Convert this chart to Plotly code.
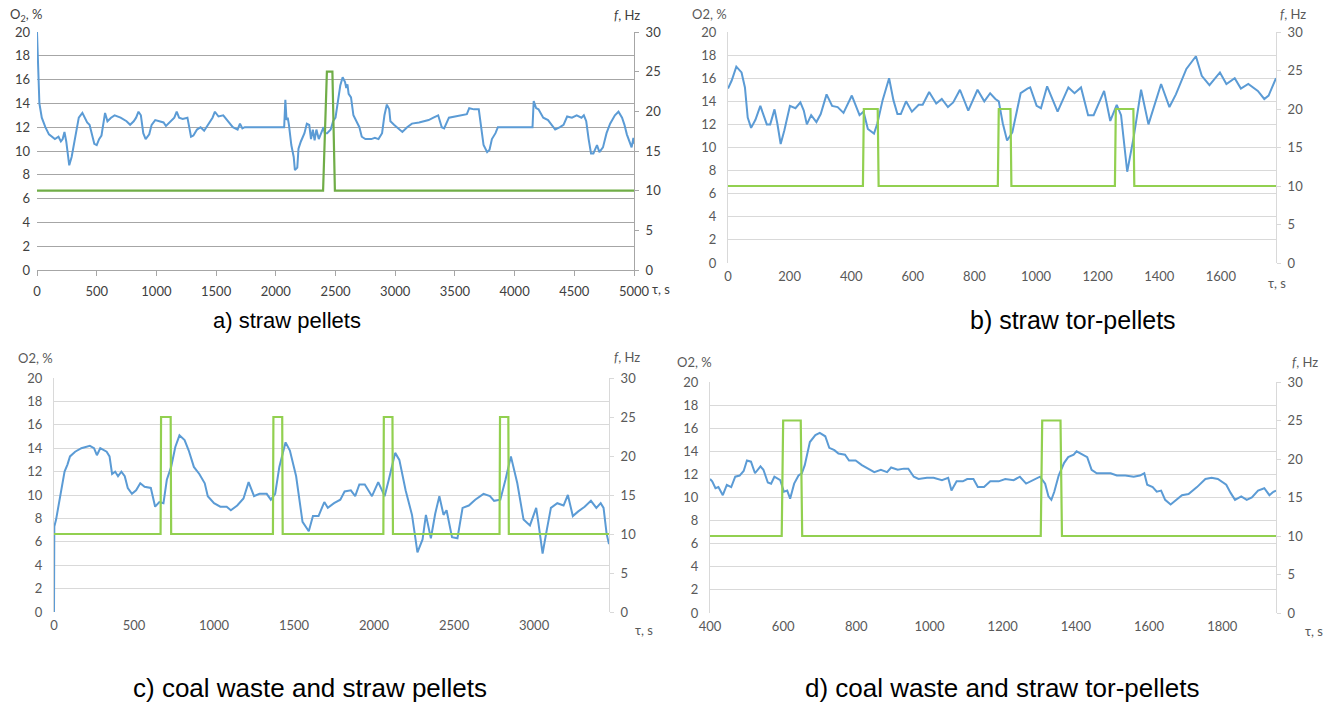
import plotly.graph_objects as go

W, H = 1331, 704

# ---------------- data ----------------
# a) straw pellets
a_t = [0, 10, 20, 40, 70, 100, 130, 150, 180, 200, 215, 230, 245, 260, 270, 290, 310, 330, 350, 380,
       400, 420, 440, 460, 480, 500, 520, 540, 560, 570, 590, 620, 650, 700, 750, 780, 810, 830, 850, 870,
       890, 910, 940, 960, 990, 1030, 1060, 1080, 1110, 1150, 1170, 1190, 1220, 1260, 1290, 1310, 1340,
       1370, 1400, 1440, 1470, 1490, 1520, 1560, 1600, 1640, 1680, 1700, 1720, 1740, 1760, 2070, 2080,
       2090, 2100, 2110, 2130, 2150, 2160, 2180, 2190, 2210, 2240, 2260, 2280, 2295, 2310, 2325, 2340,
       2360, 2380, 2400, 2410, 2430, 2460, 2480, 2500, 2520, 2540, 2560, 2580, 2590, 2600, 2610, 2630,
       2650, 2680, 2700, 2720, 2750, 2800, 2830, 2860, 2890, 2910, 2930, 2950, 2960, 2990, 3040, 3060,
       3100, 3140, 3200, 3240, 3280, 3320, 3360, 3390, 3410, 3450, 3500, 3550, 3600, 3620, 3660, 3700,
       3720, 3740, 3770, 3790, 3810, 3840, 3860, 4150, 4160, 4180, 4200, 4240, 4280, 4320, 4340, 4380,
       4410, 4440, 4480, 4520, 4560, 4580, 4600, 4620, 4640, 4660, 4690, 4710, 4740, 4770, 4800, 4840,
       4870, 4900, 4920, 4940, 4960, 4980, 4995, 5000]
a_o2 = [20, 17, 14, 12.8, 12, 11.4, 11.2, 11.0, 11.2, 10.8, 11.0, 11.6, 10.8, 9.8, 8.8, 9.5, 10.5, 11.8, 12.8, 13.2,
        12.8, 12.4, 12.2, 11.5, 10.6, 10.5, 11.0, 11.3, 12.5, 13.2, 12.5, 12.8, 13.0, 12.8, 12.5, 12.2, 12.5, 12.8, 13.3, 13.0,
        11.5, 11.0, 11.4, 12.2, 12.6, 12.5, 12.4, 12.1, 12.4, 12.8, 13.3, 12.8, 12.7, 12.8, 11.2, 11.3, 11.8,
        12.0, 11.7, 12.3, 12.8, 13.3, 12.9, 13.0, 12.5, 12.0, 11.8, 12.3, 11.9, 12.0, 12.0, 12.0, 14.3,
        12.6, 12.8, 12.2, 10.5, 9.5, 8.4, 8.6, 10.2, 10.8, 11.5, 12.3, 12.2, 11.0, 11.8, 10.9, 11.8,
        11.0, 11.5, 12.0, 11.5, 11.5, 11.8, 12.5, 12.8, 14.0, 15.5, 16.2, 15.8, 15.3, 15.6, 14.8, 14.5,
        13.0, 12.4, 12.0, 11.2, 11.0, 11.0, 11.1, 11.0, 11.5, 13.0, 13.9, 13.5, 12.5, 12.2, 11.8, 11.6,
        12.0, 12.3, 12.4, 12.5, 12.6, 12.8, 13.0, 12.0, 11.9, 12.8, 12.9, 13.0, 13.1, 13.6, 13.5, 13.5,
        12.0, 10.5, 9.9, 10.1, 11.0, 11.5, 12.0, 12.0, 14.2, 13.6, 13.5, 12.8, 12.6, 12.0, 11.8, 12.0,
        12.2, 12.9, 12.8, 13.0, 12.8, 13.0, 12.5, 11.0, 9.8, 9.8, 10.5, 9.9, 10.3, 11.5, 12.3, 13.0,
        13.3, 12.8, 12.2, 11.4, 10.8, 10.3, 11.1, 10.6]
a_ft = [0, 2396, 2428, 2474, 2495, 5000]
a_f = [10, 10, 25, 25, 10, 10]

# b) straw tor-pellets
b_t = [0, 12, 27, 44, 55, 64, 75, 89, 105, 115, 126, 137, 151, 160, 171, 183, 201, 219, 235, 246, 256, 270,
       287, 301, 320, 338, 356, 375, 402, 427, 440, 454, 474, 485, 502, 523, 537, 550, 561, 578, 597, 619,
       632, 653, 676, 694, 714, 731, 753, 780, 810, 832, 851, 868, 879, 892, 906, 923, 936, 950, 972, 981,
       1002, 1016, 1036, 1059, 1070, 1105, 1125, 1146, 1169, 1187, 1221, 1241, 1262, 1276, 1296, 1317,
       1341, 1365, 1406, 1433, 1454, 1488, 1519, 1538, 1563, 1597, 1618, 1645, 1665, 1689, 1720, 1741,
       1755, 1779]
b_o2 = [15.1, 15.8, 17.0, 16.5, 15.2, 12.6, 11.7, 12.4, 13.6, 12.9, 12.0, 12.0, 13.3, 12.1, 10.3, 11.5, 13.6, 13.4,
        13.9, 13.2, 12.0, 12.8, 12.2, 12.9, 14.6, 13.6, 13.5, 13.0, 14.5, 12.8, 13.1, 11.6, 11.2, 12.1, 14.1, 16.0,
        14.1, 12.9, 12.9, 14.0, 13.1, 13.7, 13.7, 14.8, 13.8, 14.2, 13.5, 13.9, 15.0, 13.2, 15.0, 14.0, 14.7, 14.2,
        14.0, 12.1, 10.6, 11.3, 12.9, 14.7, 15.1, 15.2, 13.6, 13.4, 15.3, 13.9, 13.1, 15.2, 14.7, 15.2, 12.8, 12.8,
        14.9, 12.3, 13.7, 12.8, 7.9, 10.9, 15.0, 12.0, 15.5, 13.5, 14.6, 16.8, 17.9, 16.2, 15.4, 16.5, 15.5, 16.0,
        15.1, 15.5, 14.9, 14.2, 14.5, 16.0]
b_ft = [0, 438, 441, 486, 489, 876, 879, 917, 920, 1256, 1259, 1316, 1319, 1779]
b_f = [10, 10, 20, 20, 10, 10, 20, 20, 10, 10, 20, 20, 10, 10]

# c) coal waste and straw pellets
c_t = [0, 2, 13, 26, 39, 53, 66, 84, 100, 132, 171, 224, 250, 268, 289, 329, 347, 363, 382, 400, 421, 442,
       461, 487, 513, 539, 566, 605, 632, 658, 684, 705, 732, 758, 784, 816, 842, 874, 908, 942, 961, 1000,
       1039, 1079, 1105, 1145, 1184, 1216, 1250, 1284, 1329, 1355, 1382, 1408, 1447, 1474, 1513, 1553,
       1592, 1618, 1653, 1689, 1711, 1750, 1789, 1816, 1855, 1882, 1908, 1942, 1987, 2026, 2066, 2092,
       2132, 2158, 2197, 2237, 2271, 2303, 2324, 2355, 2382, 2408, 2434, 2453, 2487, 2521, 2553, 2592,
       2632, 2684, 2724, 2750, 2789, 2821, 2855, 2895, 2934, 2974, 3013, 3026, 3053, 3079, 3105, 3145,
       3184, 3211, 3242, 3276, 3316, 3355, 3389, 3416, 3434, 3453, 3468]
c_o2 = [0, 7.3, 7.9, 9.0, 9.9, 11.3, 12.0, 12.6, 13.3, 13.7, 14.0, 14.2, 14.0, 13.4, 14.0, 13.7, 13.3, 11.8, 12.0,
        11.6, 12.0, 11.6, 10.6, 10.1, 10.4, 11.0, 10.7, 10.6, 9.0, 9.4, 9.3, 11.3, 12.4, 14.1, 15.1, 14.7, 13.8,
        12.4, 11.8, 11.0, 9.9, 9.3, 9.0, 9.0, 8.7, 9.1, 9.7, 11.1, 9.9, 10.1, 10.1, 9.6, 10.1, 12.4, 14.5, 13.8,
        11.6, 7.7, 6.9, 8.2, 8.2, 9.4, 8.9, 9.3, 9.6, 10.3, 10.4, 9.9, 10.9, 10.9, 9.9, 11.1, 9.9, 11.3, 13.6,
        13.0, 10.4, 8.3, 5.1, 6.2, 8.3, 6.3, 8.4, 9.9, 8.3, 8.7, 6.4, 6.3, 8.9, 9.1, 9.6, 10.1, 9.9, 9.5, 9.6,
        11.3, 13.3, 11.0, 7.9, 7.4, 8.9, 7.7, 5.0, 7.0, 8.9, 9.3, 9.1, 10.0, 8.2, 8.6, 9.0, 9.5, 8.9, 9.3, 8.9,
        6.7, 5.8]
c_ft = [0, 666, 669, 729, 732, 1368, 1371, 1426, 1429, 2058, 2061, 2115, 2118, 2784, 2787, 2839, 2842, 3468]
c_f = [10, 10, 25, 25, 10, 10, 25, 25, 10, 10, 25, 25, 10, 10, 25, 25, 10, 10]

# d) coal waste and straw tor-pellets
d_t = [400, 406, 415, 423, 435, 446, 458, 469, 481, 492, 501, 512, 523, 538, 546, 558, 567, 576, 592, 602,
       611, 619, 630, 642, 651, 659, 673, 688, 700, 715, 726, 740, 751, 769, 780, 798, 815, 832, 849, 867,
       884, 895, 913, 930, 942, 957, 970, 993, 1011, 1034, 1051, 1060, 1074, 1091, 1103, 1120, 1132, 1149,
       1166, 1189, 1207, 1230, 1247, 1264, 1281, 1302, 1316, 1325, 1333, 1341, 1353, 1368, 1379, 1394,
       1402, 1414, 1431, 1443, 1457, 1477, 1495, 1512, 1535, 1558, 1575, 1587, 1595, 1610, 1621, 1633,
       1644, 1659, 1673, 1690, 1708, 1731, 1754, 1771, 1788, 1811, 1823, 1835, 1852, 1867, 1881, 1898,
       1915, 1929, 1940, 1947]
d_o2 = [11.6, 11.4, 10.8, 10.9, 10.2, 11.1, 10.9, 11.8, 11.9, 12.3, 13.2, 13.1, 12.1, 12.7, 12.4, 11.3, 11.2,
        11.8, 11.5, 10.5, 10.6, 9.9, 11.2, 11.9, 12.1, 12.8, 14.8, 15.4, 15.6, 15.3, 14.3, 14.1, 13.8, 13.7,
        13.2, 13.2, 12.8, 12.5, 12.2, 12.4, 12.2, 12.6, 12.4, 12.5, 12.5, 11.8, 11.6, 11.7, 11.7, 11.5, 11.7,
        10.6, 11.4, 11.4, 11.6, 11.6, 10.9, 10.9, 11.4, 11.4, 11.6, 11.5, 11.8, 11.2, 11.5, 11.8, 11.2, 10.1,
        9.8, 10.5, 11.9, 13.0, 13.5, 13.7, 14.0, 13.8, 13.5, 12.4, 12.1, 12.1, 12.1, 11.9, 11.9, 11.8, 11.9,
        12.1, 11.1, 10.9, 10.5, 10.6, 9.8, 9.4, 9.8, 10.2, 10.3, 10.9, 11.6, 11.7, 11.6, 11.1, 10.4, 9.8, 10.1,
        9.8, 10.0, 10.6, 10.8, 10.2, 10.5, 10.6]
d_ft = [400, 596, 600, 648, 652, 1304, 1308, 1358, 1362, 1947]
d_f = [10, 10, 25, 25, 10, 10, 25, 25, 10, 10]

captions = ["a) straw pellets", "b) straw tor-pellets",
            "c) coal waste and straw pellets", "d) coal waste and straw tor-pellets"]

# ---------------- style ----------------
BLUE = "#5b9bd5"
GREEN_A = "#70ad47"
GREEN = "#92d050"
TICKFONT = "Lato"


def px_x(p):
    return p / W


def px_y(p):
    return 1 - p / H


panels = [
    dict(t=a_t, o=a_o2, ft=a_ft, f=a_f, green=GREEN_A, xr=[0, 5000], dt=500,
         box=(37, 634, 32, 270), grid="#a6a6a6", tcol="#404040", o2lbl="O<sub>2</sub>, %",
         o2pos=(8, 15), fpos=(612, 15), taupos=(650, 289), cap=(287, 320), capsize=22),
    dict(t=b_t, o=b_o2, ft=b_ft, f=b_f, green=GREEN, xr=[0, 1779], dt=200,
         box=(728, 1276, 32, 263), grid="#d9d9d9", tcol="#595959", o2lbl="O2, %",
         o2pos=(690, 14), fpos=(1278, 14), taupos=(1266, 283), cap=(1073, 320), capsize=25),
    dict(t=c_t, o=c_o2, ft=c_ft, f=c_f, green=GREEN, xr=[0, 3468], dt=500,
         box=(54, 609, 378, 612), grid="#d9d9d9", tcol="#595959", o2lbl="O2, %",
         o2pos=(16, 358), fpos=(612, 357), taupos=(633, 630), cap=(310, 688), capsize=26),
    dict(t=d_t, o=d_o2, ft=d_ft, f=d_f, green=GREEN, xr=[400, 1947], dt=200,
         box=(710, 1276, 382, 613), grid="#d9d9d9", tcol="#595959", o2lbl="O2, %",
         o2pos=(675, 362), fpos=(1290, 362), taupos=(1303, 631), cap=(1002, 688), capsize=26),
]

fig = go.Figure()
layout = dict(width=W, height=H, margin=dict(l=0, r=0, t=0, b=0, autoexpand=False),
              paper_bgcolor="white", plot_bgcolor="white", showlegend=False)
annotations = []

for i, p in enumerate(panels):
    k = i + 1
    xa = "x" if k == 1 else f"x{k}"
    yl = 2 * k - 1
    yr = 2 * k
    yla = "y" if yl == 1 else f"y{yl}"
    yra = f"y{yr}"
    x0, x1, y0, y1 = p["box"]
    tf = dict(family=TICKFONT, size=13, color=p["tcol"])

    fig.add_trace(go.Scatter(x=p["t"], y=p["o"], mode="lines", xaxis=xa, yaxis=yla,
                             line=dict(color=BLUE, width=2), hoverinfo="skip"))
    fig.add_trace(go.Scatter(x=p["ft"], y=p["f"], mode="lines", xaxis=xa, yaxis=yra,
                             line=dict(color=p["green"], width=2.2), hoverinfo="skip"))

    xkey = "xaxis" if k == 1 else f"xaxis{k}"
    ylkey = "yaxis" if yl == 1 else f"yaxis{yl}"
    yrkey = f"yaxis{yr}"
    layout[xkey] = dict(domain=[px_x(x0), px_x(x1)], range=p["xr"], anchor=yla,
                        tickmode="linear", tick0=0 if k != 4 else 400, dtick=p["dt"],
                        showgrid=False, zeroline=False, automargin=False,
                        showline=(k == 1), linecolor=p["grid"], linewidth=1,
                        ticks="outside" if k == 1 else "", ticklen=5, tickcolor=p["grid"],
                        tickfont=tf, ticklabelstandoff=4)
    layout[ylkey] = dict(domain=[px_y(y1), px_y(y0)], range=[0, 20], anchor=xa,
                         tickmode="linear", tick0=0, dtick=2, automargin=False,
                         showgrid=True, gridcolor=p["grid"], gridwidth=1.3 if k == 1 else 1,
                         zeroline=False, showline=(k != 1), linecolor="#d9d9d9", linewidth=1,
                         tickfont=tf, ticklabelstandoff=6 if k == 1 else 8)
    layout[yrkey] = dict(overlaying=yla, side="right", anchor=xa, range=[0, 30], automargin=False,
                         tickmode="linear", tick0=0, dtick=5, showgrid=False, zeroline=False,
                         showline=True, linecolor=p["grid"] if k == 1 else "#d9d9d9", linewidth=1,
                         ticks="outside", ticklen=4, tickcolor=p["grid"] if k == 1 else "#d9d9d9",
                         tickfont=tf, ticklabelstandoff=4)

    ax_font = dict(family=TICKFONT, size=13, color=p["tcol"])
    annotations.append(dict(text=p["o2lbl"], x=px_x(p["o2pos"][0]), y=px_y(p["o2pos"][1]),
                            xref="paper", yref="paper", xanchor="left", yanchor="middle",
                            showarrow=False, font=ax_font))
    annotations.append(dict(text="<i>f</i>, Hz", x=px_x(p["fpos"][0]), y=px_y(p["fpos"][1]),
                            xref="paper", yref="paper", xanchor="left", yanchor="middle",
                            showarrow=False, font=ax_font))
    annotations.append(dict(text="τ, s", x=px_x(p["taupos"][0]), y=px_y(p["taupos"][1]),
                            xref="paper", yref="paper", xanchor="left", yanchor="middle",
                            showarrow=False, font=ax_font))
    annotations.append(dict(text=captions[i], x=px_x(p["cap"][0]), y=px_y(p["cap"][1]),
                            xref="paper", yref="paper", xanchor="center", yanchor="middle",
                            showarrow=False,
                            font=dict(family="Liberation Sans", size=p["capsize"], color="#000000")))

layout["annotations"] = annotations
fig.update_layout(**layout)
fig.write_html("out.html")
